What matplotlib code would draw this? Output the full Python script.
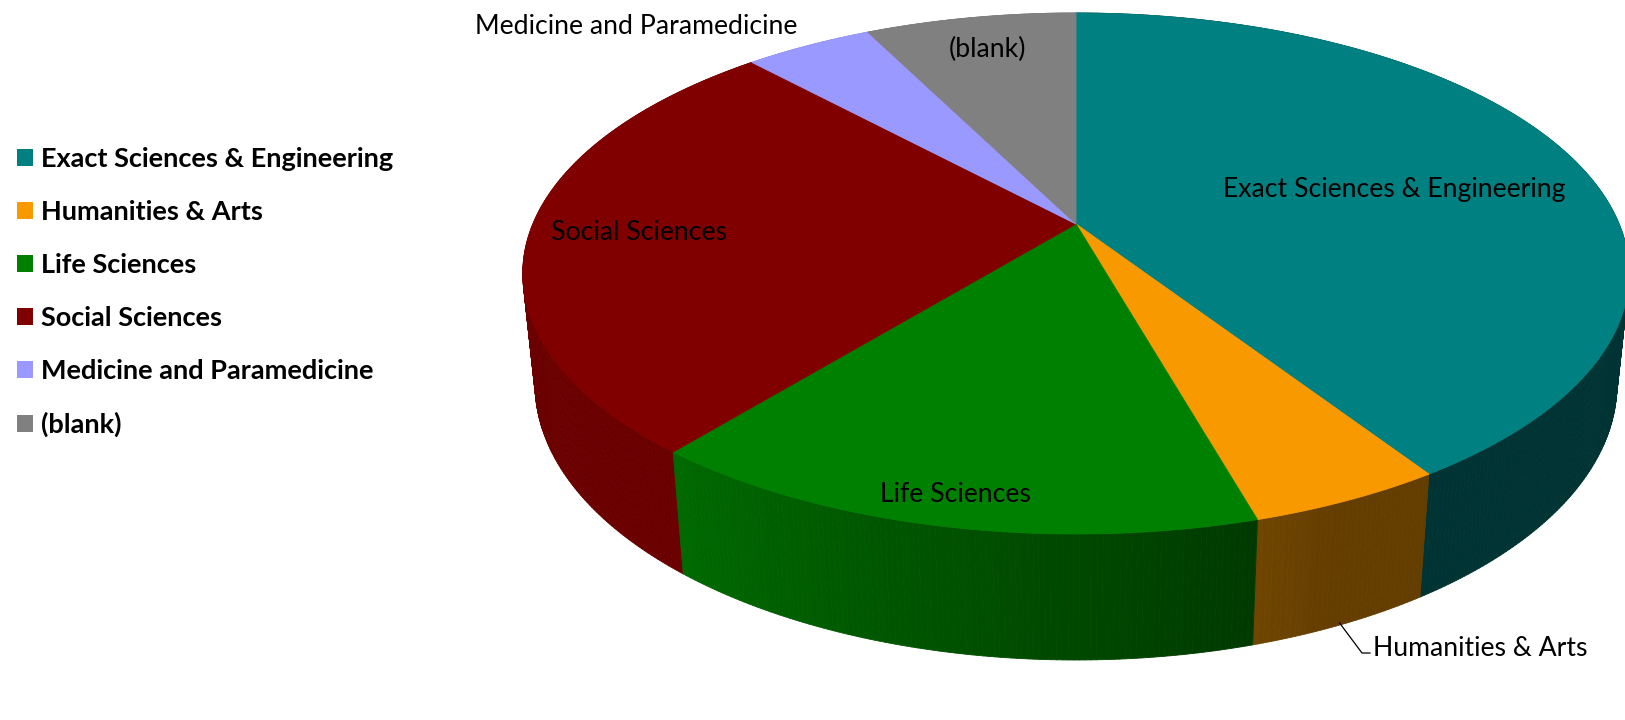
import numpy as np
import matplotlib.pyplot as plt
from matplotlib.patches import Polygon, Patch
from matplotlib.collections import PolyCollection
from matplotlib.colors import to_rgb

plt.rcParams['font.family'] = ['Lato', 'DejaVu Sans']

# data
categories = ['Exact Sciences & Engineering', 'Humanities & Arts', 'Life Sciences',
              'Social Sciences', 'Medicine and Paramedicine', '(blank)']
values = [40.8, 4.8, 15.3, 27.2, 4.5, 7.4]
colors = ['#008080', '#F99900', '#008000', '#800000', '#9999FF', '#808080']

# 3d view of the pie, in pixels
cx, cy = 1076, 224      # pie centre on screen
k = 2594                # vertical screen scale
kx = 0.982 * k          # horizontal screen scale
D = 4.69                # camera distance (pie radius = 1)
phi = np.radians(27)    # camera elevation
h = 0.2265              # pie thickness


def proj(x, y, z):
    # perspective projection, camera in front of the pie looking down
    ry = y + D * np.cos(phi)
    rz = z - D * np.sin(phi)
    depth = ry * np.cos(phi) - rz * np.sin(phi)
    up = ry * np.sin(phi) + rz * np.cos(phi)
    return cx + kx * x / depth, cy - k * up / depth, depth


fig = plt.figure(figsize=(16.25, 7.2), dpi=100)
ax = fig.add_axes([0, 0, 1, 1])
ax.set_xlim(0, 1625)
ax.set_ylim(720, 0)
ax.axis('off')

frac = np.array(values) / sum(values)
edges = np.concatenate([[0], np.cumsum(frac) * 360])

# outer side of the pie, shaded by direction
quads, qcol, qdep = [], [], []
for i, c in enumerate(colors):
    n = max(int((edges[i + 1] - edges[i]) * 2), 2)
    a = np.radians(np.linspace(edges[i], edges[i + 1], n + 1))
    for t0, t1 in zip(a[:-1], a[1:]):
        xs = np.array([np.sin(t0), np.sin(t1), np.sin(t1), np.sin(t0)])
        ys = np.array([np.cos(t0), np.cos(t1), np.cos(t1), np.cos(t0)])
        zs = np.array([0, 0, -h, -h])
        X, Y, dep = proj(xs, ys, zs)
        tm = np.degrees((t0 + t1) / 2)
        f = np.clip(0.45 + (tm - 164) * 0.0068, 0.40, 0.83)
        quads.append(np.column_stack([X, Y]))
        qcol.append(np.array(to_rgb(c)) * f)
        qdep.append(dep.mean())
order = np.argsort(qdep)[::-1]
cols = [qcol[j] for j in order]
ax.add_collection(PolyCollection([quads[j] for j in order], facecolors=cols,
                                 edgecolors=cols, linewidths=0.6, zorder=1))

# top face
for i, c in enumerate(colors):
    a = np.radians(np.linspace(edges[i], edges[i + 1], 200))
    X, Y, _ = proj(np.sin(a), np.cos(a), np.zeros_like(a))
    X0, Y0, _ = proj(0.0, 0.0, 0.0)
    pts = np.vstack([[X0, Y0], np.column_stack([X, Y])])
    ax.add_patch(Polygon(pts, closed=True, fc=c, ec=c, lw=0.6, zorder=2))

# data labels
lab = dict(fontsize=19.2, color='black', zorder=3)
ax.text(1394, 190, categories[0], ha='center', va='center', **lab)
ax.text(639, 233, categories[3], ha='center', va='center', **lab)
ax.text(955, 494, categories[2], ha='center', va='center', **lab)
ax.text(988, 49, categories[5], ha='center', va='center', **lab)
ax.text(636, 27, categories[4], ha='center', va='center', **lab)
ax.text(1373, 648, categories[1], ha='left', va='center', **lab)

# leader line for Humanities & Arts
tm = np.radians((edges[1] + edges[2]) / 2)
lx, ly, _ = proj(np.sin(tm) * 0.995, np.cos(tm) * 0.995, -h)
ax.plot([lx, 1362, 1370], [ly, 653, 653], color='black', lw=0.9, zorder=3)

# legend
handles = [Patch(facecolor=c, edgecolor='none') for c in colors]
ax.legend(handles, categories, loc='center left', bbox_to_anchor=(17 / 1625, 1 - 292 / 720),
          frameon=False, borderpad=0, borderaxespad=0, handlelength=0.6, handleheight=0.6,
          handletextpad=0.3, labelspacing=1.07, prop={'weight': 'bold', 'size': 19.5})

fig.savefig('out.png', dpi=100)
